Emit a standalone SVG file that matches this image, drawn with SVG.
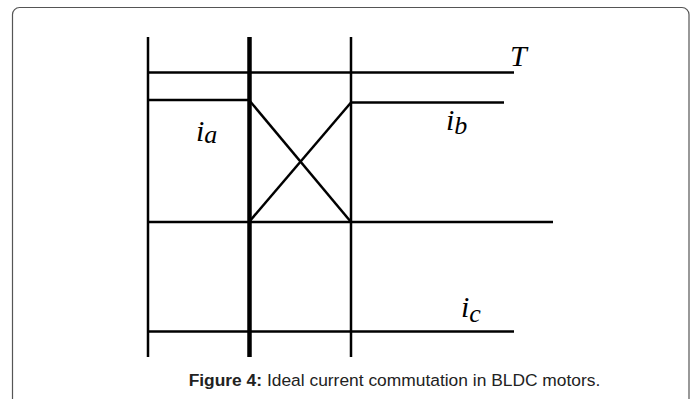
<svg xmlns="http://www.w3.org/2000/svg" width="697" height="399" viewBox="0 0 697 399">
<style>
.ln{stroke:#000;stroke-width:2.5;fill:none}
.lbl{font-family:"Liberation Serif","Times New Roman",serif;font-style:italic;fill:#000}
.cap{font-family:"Liberation Sans",Arial,sans-serif;font-size:17.4px;fill:#222}
</style>
<rect x="12.5" y="7.5" width="676.5" height="420" rx="7" fill="#fff" stroke="#555" stroke-width="1.2"/>
<g id="connectors">
<line class="ln" x1="148" y1="37" x2="148" y2="357"/>
<line class="ln" x1="249.5" y1="37" x2="249.5" y2="357" style="stroke-width:4.5"/>
<line class="ln" x1="351" y1="37" x2="351" y2="357"/>
<line class="ln" x1="148" y1="72.5" x2="514" y2="72.5"/>
<line class="ln" x1="148" y1="100" x2="249" y2="100"/>
<line class="ln" x1="351" y1="102.5" x2="504" y2="102.5"/>
<line class="ln" x1="148" y1="222" x2="553" y2="222"/>
<line class="ln" x1="148" y1="331.5" x2="514" y2="331.5"/>
<line class="ln" x1="249" y1="100" x2="351" y2="222"/>
<line class="ln" x1="249" y1="222" x2="351" y2="102.5"/>
</g>
<g id="label-T"><text class="lbl" x="510" y="66" font-size="30">T</text></g>
<g id="label-ia"><text class="lbl" x="196" y="141" font-size="30">i<tspan font-size="26" dy="2">a</tspan></text></g>
<g id="label-ib"><text class="lbl" x="446" y="130" font-size="30">i<tspan font-size="26" dy="4">b</tspan></text></g>
<g id="label-ic"><text class="lbl" x="461" y="317" font-size="30">i<tspan font-size="26" dy="5">c</tspan></text></g>
<g id="caption"><text class="cap" x="394.5" y="386" text-anchor="middle"><tspan font-weight="bold">Figure 4:</tspan> Ideal current commutation in BLDC motors.</text></g>
</svg>
